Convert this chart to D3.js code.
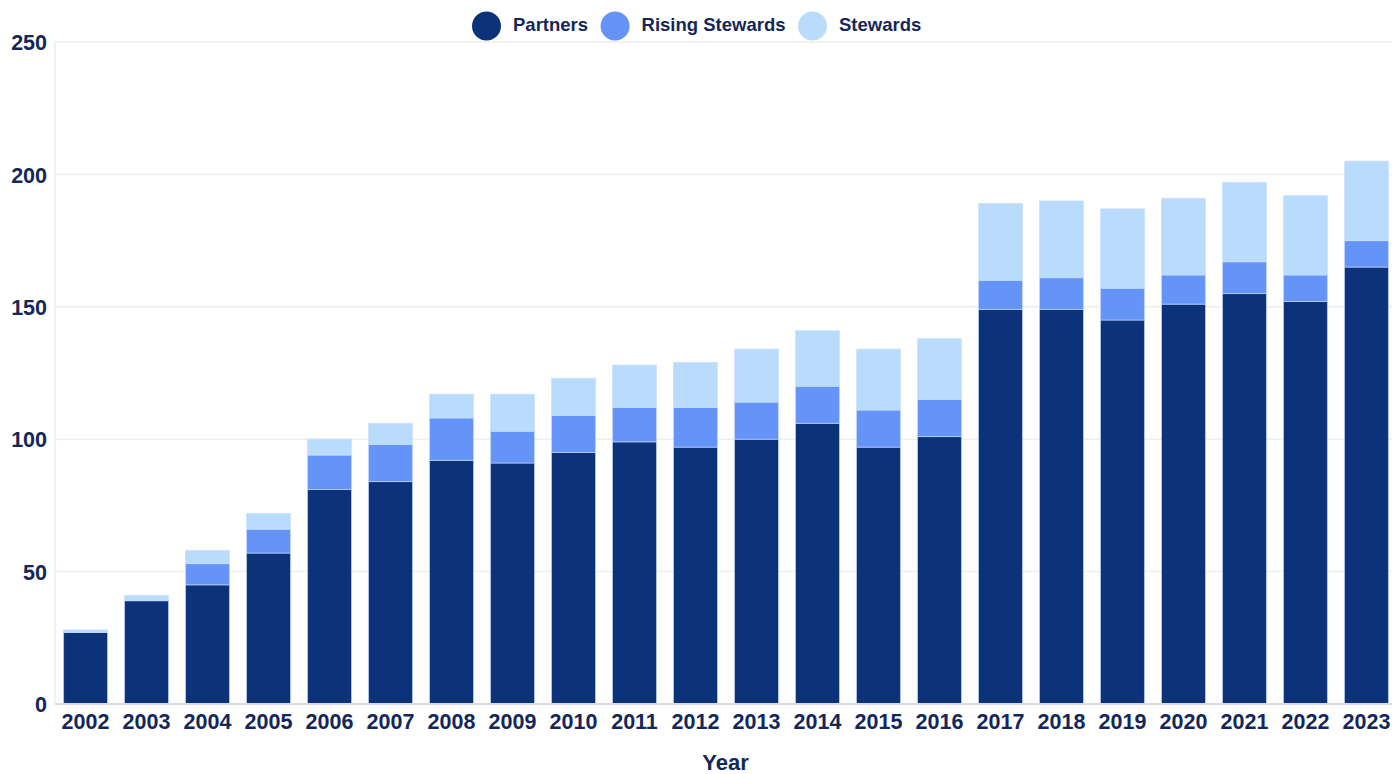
<!DOCTYPE html>
<html>
<head>
<meta charset="utf-8">
<script src="https://cdn.jsdelivr.net/npm/d3@7"></script>
<style>
  html, body { margin: 0; padding: 0; background: #fff; }
  svg text { font-family: "Liberation Sans", Arial, sans-serif; font-weight: bold; fill: #14275a; }
</style>
</head>
<body>
<div id="canvas"></div>
<script>
// data
const years = ['2002','2003','2004','2005','2006','2007','2008','2009','2010','2011','2012',
  '2013','2014','2015','2016','2017','2018','2019','2020','2021','2022','2023'];
const partners = [27,39,45,57,81,84,92,91,95,99,97,100,106,97,101,149,149,145,151,155,152,165];
const risingStewards = [0,0,8,9,13,14,16,12,14,13,15,14,14,14,14,11,12,12,11,12,10,10];
const stewards = [1,2,5,6,6,8,9,14,14,16,17,20,21,23,23,29,29,30,29,30,30,30];
const seriesNames = ['Partners', 'Rising Stewards', 'Stewards'];
const yTicks = [0, 50, 100, 150, 200, 250];

const colors = ['#0c337a', '#6594f8', '#b9dcfd'];

const width = 1392, height = 774;
const margin = { top: 42, right: -5, bottom: 70, left: 55 };
const graphWidth = width - margin.left - margin.right;
const graphHeight = height - margin.top - margin.bottom;

const svg = d3.select('#canvas')
  .append('svg')
  .attr('width', width)
  .attr('height', height);

const graph = svg.append('g')
  .attr('transform', `translate(${margin.left}, ${margin.top})`);

// build rows for the stack
const rows = years.map((y, i) => ({
  year: y,
  'Partners': partners[i],
  'Rising Stewards': risingStewards[i],
  'Stewards': stewards[i]
}));

const stack = d3.stack().keys(seriesNames)(rows);

// scales
const x = d3.scaleBand()
  .domain(years)
  .range([0, graphWidth])
  .paddingInner(0.279)
  .paddingOuter(0.14);

const y = d3.scaleLinear()
  .domain([0, 250])
  .range([graphHeight, 0]);

// gridlines
graph.append('g')
  .selectAll('line')
  .data(yTicks.slice(1))
  .join('line')
    .attr('x1', 0)
    .attr('x2', graphWidth)
    .attr('y1', d => y(d))
    .attr('y2', d => y(d))
    .attr('stroke', '#eeeeee')
    .attr('stroke-width', 1.5);

// left vertical line
graph.append('line')
  .attr('x1', 0).attr('x2', 0)
  .attr('y1', 0).attr('y2', graphHeight)
  .attr('stroke', '#eeeeee')
  .attr('stroke-width', 1.5);

// bars
graph.append('g')
  .selectAll('g')
  .data(stack)
  .join('g')
    .attr('fill', (d, i) => colors[i])
  .selectAll('rect')
  .data(d => d)
  .join('rect')
    .attr('x', d => x(d.data.year))
    .attr('width', x.bandwidth())
    .attr('y', d => y(d[1]))
    .attr('height', d => Math.max(0, y(d[0]) - y(d[1])))
    .attr('stroke', 'rgba(200,220,255,0.6)')
    .attr('stroke-width', d => (d[1] - d[0]) > 0 ? 1 : 0);

// baseline
graph.append('line')
  .attr('x1', 0).attr('x2', graphWidth)
  .attr('y1', graphHeight).attr('y2', graphHeight)
  .attr('stroke', '#dcdcdc')
  .attr('stroke-width', 2);

// y axis
const yAxis = d3.axisLeft(y)
  .tickValues(yTicks)
  .tickSize(0)
  .tickPadding(8);

const yAxisGroup = graph.append('g').call(yAxis);
yAxisGroup.select('.domain').remove();
yAxisGroup.selectAll('text')
  .attr('font-size', 21.5)
  .attr('dy', '0.36em')
  .style('fill', '#14275a');

// x axis
const xAxis = d3.axisBottom(x).tickSize(0).tickPadding(8);
const xAxisGroup = graph.append('g')
  .attr('transform', `translate(0, ${graphHeight})`)
  .call(xAxis);
xAxisGroup.select('.domain').remove();
xAxisGroup.selectAll('text')
  .attr('font-size', 21.5)
  .attr('dy', '0.78em')
  .style('fill', '#14275a');

// x axis title
svg.append('text')
  .attr('x', margin.left + (1392 - margin.left) / 2 + 2)
  .attr('y', 770)
  .attr('text-anchor', 'middle')
  .attr('font-size', 22)
  .text('Year');

// legend
const legend = svg.append('g').attr('class', 'legend');
let lx = 472;
seriesNames.forEach((name, i) => {
  legend.append('circle')
    .attr('cx', lx + 14.5)
    .attr('cy', 26)
    .attr('r', 14.5)
    .attr('fill', colors[i]);
  const t = legend.append('text')
    .attr('x', lx + 41)
    .attr('y', 25)
    .attr('dy', '0.35em')
    .attr('font-size', 18.5)
    .text(name);
  const w = t.node().getComputedTextLength();
  lx = lx + 41 + w + 12.5;
});
</script>
</body>
</html>
